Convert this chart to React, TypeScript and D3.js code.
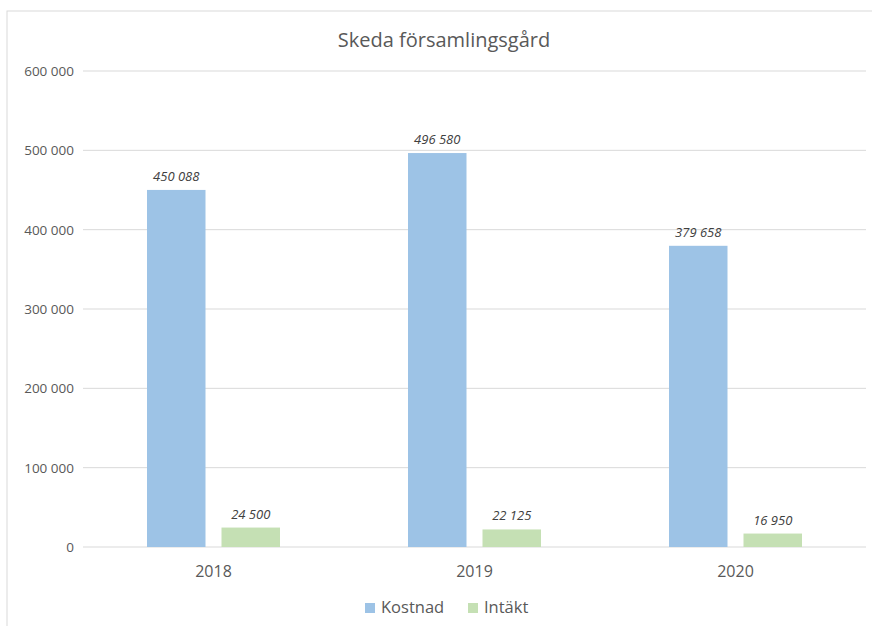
import React from "react";
import * as d3 from "d3";

const categories = ["2018", "2019", "2020"];
const seriesNames = ["Kostnad", "Intäkt"];
const kostnad = [450088, 496580, 379658];
const intakt = [24500, 22125, 16950];
const yTicks = [0, 100000, 200000, 300000, 400000, 500000, 600000];
const colors = ["#9DC3E6", "#C5E0B4"];

const fmt = (v: number) => d3.format(",")(v).replace(/,/g, " ");

export default function App() {
  const W = 872, H = 626;
  const left = 83, right = 866, top = 71, bottom = 547;
  const x = d3.scaleBand<string>().domain(categories).range([left, right]).paddingInner(0).paddingOuter(0);
  const y = d3.scaleLinear().domain([0, 600000]).range([bottom, top]);
  const barW = 58.5, gap = 16;
  const series = [kostnad, intakt];
  const font = "'Open Sans', 'Noto Sans', sans-serif";
  return (
    <svg width={W} height={H} style={{ position: "absolute", left: 0, top: 0, background: "#fff" }} fontFamily={font}>
      <rect x={7} y={11} width={870} height={630} fill="#fff" stroke="#D9D9D9" strokeWidth={1} />
      <text x={444} y={47} textAnchor="middle" fontSize={20} fill="#595959">Skeda församlingsgård</text>
      {yTicks.map((t) => (
        <g key={t}>
          <line x1={left} x2={right} y1={y(t)} y2={y(t)} stroke="#D9D9D9" strokeWidth={1} />
          <text x={74} y={y(t) + 5} textAnchor="end" fontSize={13.5} fill="#595959">{fmt(t)}</text>
        </g>
      ))}
      {categories.map((c, i) => {
        const cx = x(c)! + x.bandwidth() / 2;
        return (
          <g key={c}>
            {series.map((s, j) => {
              const bx = cx - gap / 2 - barW + j * (barW + gap);
              const v = s[i];
              return (
                <g key={j}>
                  <rect x={bx} y={y(v)} width={barW} height={bottom - y(v)} fill={colors[j]} />
                  <text x={bx + barW / 2} y={y(v) - 9} textAnchor="middle" fontSize={13} fontStyle="italic" fill="#404040">{fmt(v)}</text>
                </g>
              );
            })}
            <text x={cx} y={577} textAnchor="middle" fontSize={16} fill="#595959">{c}</text>
          </g>
        );
      })}
      {seriesNames.map((n, j) => {
        const lx = [365, 468][j];
        return (
          <g key={n}>
            <rect x={lx} y={603} width={10} height={10} fill={colors[j]} />
            <text x={lx + 16} y={613} fontSize={16.5} fill="#595959">{n}</text>
          </g>
        );
      })}
    </svg>
  );
}
